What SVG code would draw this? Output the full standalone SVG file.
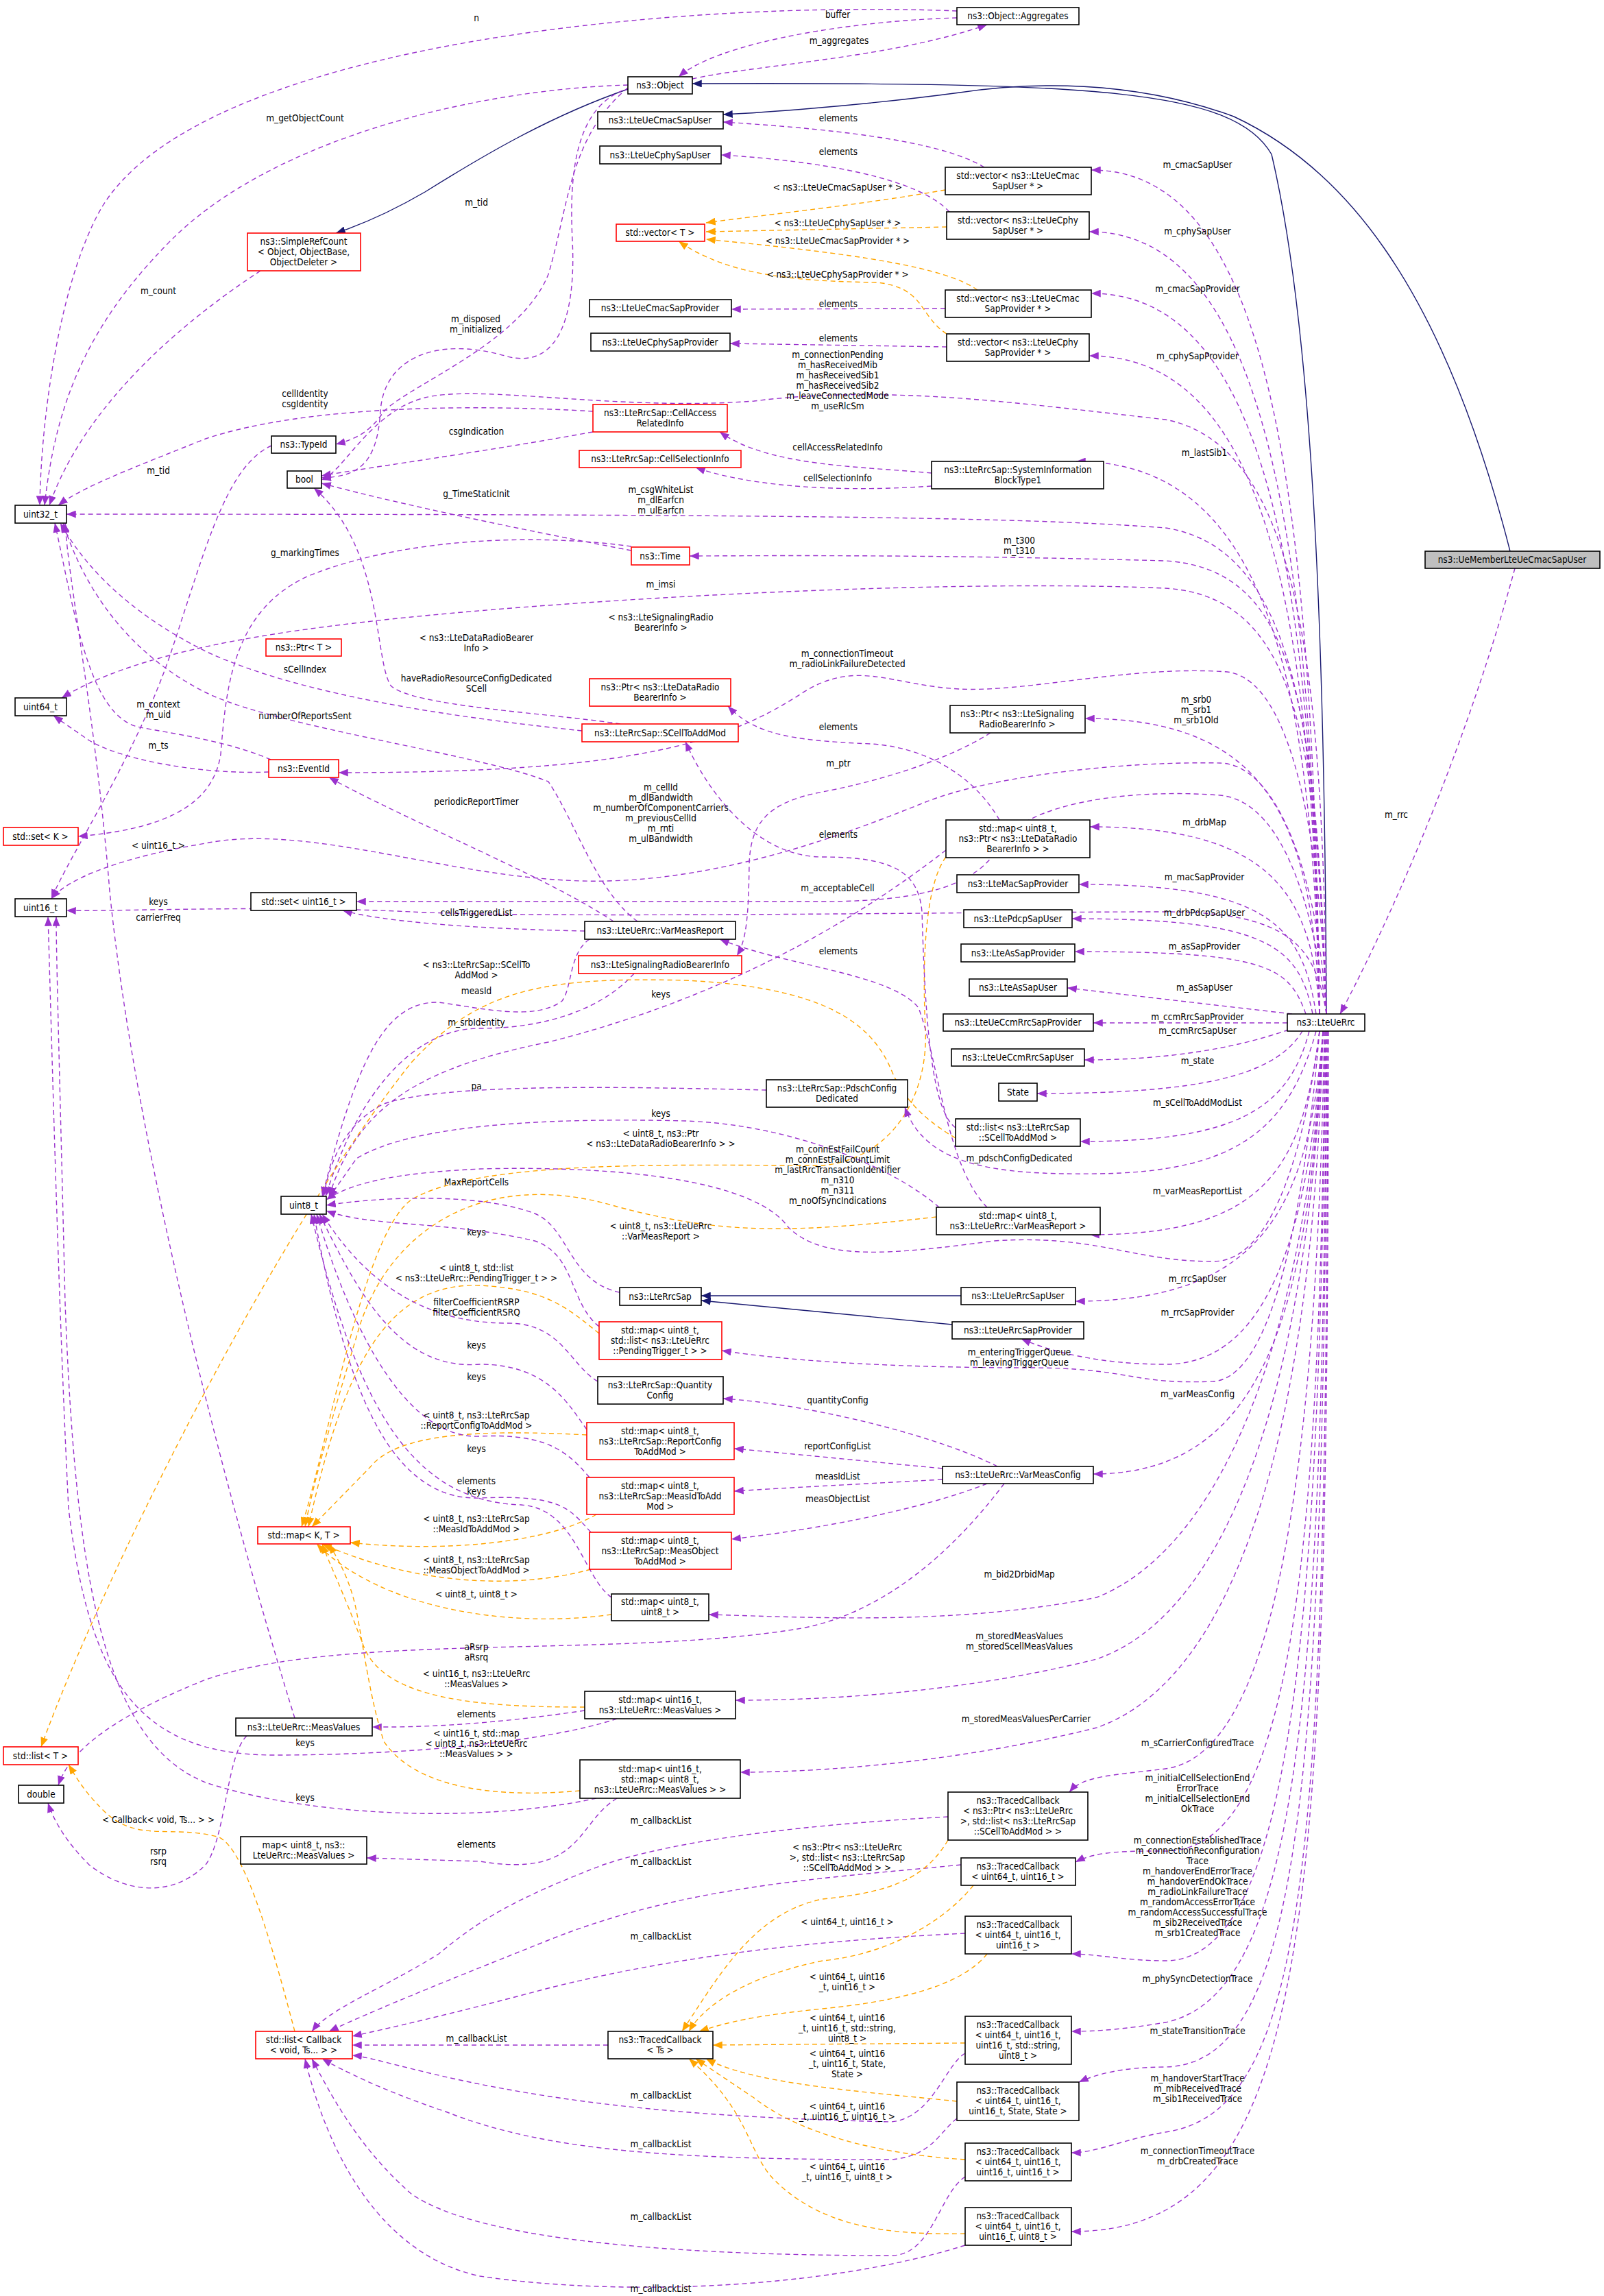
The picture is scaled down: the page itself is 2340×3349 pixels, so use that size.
<svg xmlns="http://www.w3.org/2000/svg" width="2340" height="3349" viewBox="0 0 2340 3349">
<style>
text{font-family:"DejaVu Sans Condensed","DejaVu Sans",sans-serif;font-size:13.5px;fill:#000;text-anchor:middle}
.n rect{fill:#fff;stroke:#000;stroke-width:1.6}
.r rect{fill:#fff;stroke:#ff0000;stroke-width:1.6}
.g rect{fill:#bfbfbf;stroke:#000;stroke-width:1.6}
.p{fill:none;stroke:#9a32cd;stroke-width:1.4;stroke-dasharray:7,5;marker-end:url(#mp)}
.o{fill:none;stroke:#ffa500;stroke-width:1.4;stroke-dasharray:7,5;marker-end:url(#mo)}
.b{fill:none;stroke:#191970;stroke-width:1.4;marker-end:url(#mb)}
</style>
<defs>
<marker id="mp" viewBox="0 0 10 8" markerWidth="14" markerHeight="11" refX="10" refY="4" orient="auto" markerUnits="userSpaceOnUse"><path d="M0,0L10,4L0,8z" fill="#9a32cd"/></marker>
<marker id="mo" viewBox="0 0 10 8" markerWidth="14" markerHeight="11" refX="10" refY="4" orient="auto" markerUnits="userSpaceOnUse"><path d="M0,0L10,4L0,8z" fill="#ffa500"/></marker>
<marker id="mb" viewBox="0 0 10 8" markerWidth="14" markerHeight="11" refX="10" refY="4" orient="auto" markerUnits="userSpaceOnUse"><path d="M0,0L10,4L0,8z" fill="#191970"/></marker>
</defs>
<rect width="2340" height="3349" fill="#fff"/>
<g id="connectors">
<path class="b" d="M916,130 C800,170 700,230 620,280 C560,315 520,330 490,340"/>
<path class="b" d="M1935,1479 C1933,1000 1920,500 1855,225 C1800,130 1600,120 1010,122"/>
<path class="b" d="M2203,804 C2100,400 1950,240 1800,170 C1650,115 1500,120 1400,135 C1250,155 1100,165 1055,167"/>
<path class="b" d="M1402,1890 L1023,1890"/>
<path class="b" d="M1389,1932 L1023,1897"/>
<path class="p" d="M1396,16 C1000,0 300,60 150,300 C90,400 60,600 58,737"/>
<path class="p" d="M1396,26 C1250,30 1050,60 990,112"/>
<path class="p" d="M1010,115 C1100,95 1300,85 1440,36"/>
<path class="p" d="M916,124 C700,130 400,200 250,350 C120,480 80,600 65,737"/>
<path class="p" d="M916,128 C830,200 830,300 800,400 C760,500 600,560 560,600 C540,630 520,640 490,648"/>
<path class="p" d="M920,128 C840,150 830,250 835,350 C840,450 820,540 740,520 C640,490 560,520 555,600 C550,680 520,695 469,697"/>
<path class="p" d="M380,395 C250,480 120,600 72,737"/>
<path class="p" d="M1436,244 C1380,210 1250,190 1055,178"/>
<path class="p" d="M1385,309 C1340,260 1200,235 1052,226"/>
<path class="p" d="M1379,450 L1067,451"/>
<path class="p" d="M1381,506 L1065,501"/>
<path class="o" d="M1379,277 C1250,300 1100,315 1030,325"/>
<path class="o" d="M1381,331 L1030,338"/>
<path class="o" d="M1426,423 C1380,390 1250,370 1030,349"/>
<path class="o" d="M1381,487 C1340,460 1350,420 1280,412 C1150,410 1060,400 990,352"/>
<path class="p" d="M865,600 C700,590 450,590 300,640 C200,680 120,710 85,737"/>
<path class="p" d="M865,630 C700,660 550,680 469,694"/>
<path class="p" d="M396,650 C330,680 300,800 250,950 C200,1100 100,1250 75,1311"/>
<path class="p" d="M1359,690 C1250,680 1120,680 1050,630"/>
<path class="p" d="M1359,709 C1200,720 1080,705 1015,682"/>
<path class="p" d="M921,803 C800,780 600,740 469,705"/>
<path class="p" d="M921,797 C800,780 600,780 450,840 C340,890 330,1000 322,1100 C310,1180 230,1210 114,1220"/>
<path class="p" d="M392,1126 C300,1130 180,1110 130,1080 L78,1044"/>
<path class="p" d="M395,1108 C330,1080 250,1070 200,1060 C130,1040 110,900 80,763"/>
<path class="p" d="M849,1066 C700,1050 450,1020 300,950 C180,890 120,820 88,763"/>
<path class="p" d="M905,1056 C800,1040 600,1030 570,1000 C545,960 560,800 458,712"/>
<path class="p" d="M930,1344 C870,1300 840,1200 800,1140 C700,1100 400,1060 300,1010 C180,950 120,850 92,763"/>
<path class="p" d="M895,1344 C800,1280 600,1200 480,1134"/>
<path class="p" d="M853,1358 C700,1355 560,1345 500,1328"/>
<path class="p" d="M860,1370 C830,1390 835,1440 820,1460 C780,1490 700,1470 640,1462 C560,1460 520,1550 470,1745"/>
<path class="p" d="M925,1420 C880,1470 800,1500 700,1500 C600,1500 520,1600 475,1745"/>
<path class="p" d="M1445,1069 C1380,1110 1280,1140 1200,1155 C1120,1170 1095,1200 1093,1260 C1092,1330 1090,1370 1075,1394"/>
<path class="p" d="M1458,1196 C1420,1130 1350,1090 1270,1085 C1150,1080 1100,1070 1062,1030"/>
<path class="p" d="M1380,1240 C1200,1380 1000,1470 800,1520 C600,1560 520,1620 480,1745"/>
<path class="o" d="M1380,1250 C1350,1290 1345,1400 1350,1500 C1355,1600 1300,1690 1200,1700 C1000,1700 700,1690 600,1750 C530,1800 480,2100 440,2227"/>
<path class="p" d="M1394,1645 C1360,1620 1350,1500 1345,1330 C1340,1270 1300,1250 1200,1250 C1100,1250 1030,1150 1000,1082"/>
<path class="p" d="M1440,1761 C1380,1700 1370,1550 1340,1470 C1300,1420 1150,1410 1050,1370"/>
<path class="o" d="M1394,1660 C1360,1640 1320,1610 1300,1560 C1270,1490 1200,1440 1000,1430 C800,1425 700,1440 600,1550 C400,1800 150,2300 60,2548"/>
<path class="p" d="M1118,1590 C900,1585 650,1580 560,1610 C500,1640 480,1700 472,1745"/>
<path class="o" d="M1366,1775 C1150,1800 1050,1800 900,1760 C700,1700 560,1800 520,1950 C490,2050 460,2150 445,2227"/>
<path class="p" d="M1370,1761 C1300,1700 1150,1640 1000,1635 C800,1630 600,1640 520,1690 L480,1747"/>
<path class="p" d="M904,1885 C830,1870 830,1790 780,1770 C700,1740 560,1745 476,1758"/>
<path class="p" d="M874,1935 C830,1900 840,1830 780,1810 C650,1780 540,1790 476,1766"/>
<path class="o" d="M874,1945 C830,1910 800,1880 700,1875 C560,1870 500,2000 450,2227"/>
<path class="p" d="M872,2015 C830,1990 820,1930 740,1930 C600,1930 520,1850 470,1771"/>
<path class="p" d="M856,2085 C830,2050 800,1990 700,1990 C580,2000 520,1880 466,1771"/>
<path class="o" d="M856,2093 C700,2085 580,2090 540,2140 L455,2227"/>
<path class="p" d="M860,2155 C830,2120 800,2090 700,2095 C580,2100 500,1900 462,1771"/>
<path class="o" d="M870,2209 C800,2250 650,2265 511,2250"/>
<path class="p" d="M862,2235 C830,2200 820,2180 700,2185 C560,2190 500,2000 458,1771"/>
<path class="o" d="M862,2289 C750,2320 600,2310 470,2252"/>
<path class="p" d="M892,2330 C850,2300 840,2200 760,2195 C600,2190 520,2050 454,1771"/>
<path class="o" d="M892,2355 C750,2375 560,2350 462,2252"/>
<path class="p" d="M1455,2139 C1380,2100 1200,2050 1055,2040"/>
<path class="p" d="M1375,2142 C1250,2130 1150,2120 1071,2113"/>
<path class="p" d="M1375,2158 C1250,2165 1150,2170 1071,2175"/>
<path class="p" d="M1440,2164 C1350,2200 1200,2230 1067,2245"/>
<path class="p" d="M1465,2164 C1400,2250 1300,2350 1170,2375 C900,2420 500,2380 300,2450 C150,2510 100,2560 85,2604"/>
<path class="p" d="M360,2532 C330,2560 330,2680 300,2720 C250,2770 180,2760 130,2720 C100,2690 80,2660 70,2630"/>
<path class="p" d="M430,2506 C350,2250 200,1700 160,1300 C140,1050 100,850 95,763"/>
<path class="p" d="M853,2495 C750,2510 650,2520 543,2519"/>
<path class="p" d="M900,2507 C800,2540 600,2560 400,2560 C200,2560 130,2450 100,2200 C85,1900 75,1500 70,1337"/>
<path class="o" d="M853,2490 C700,2490 560,2480 530,2400 C500,2320 480,2280 470,2252"/>
<path class="p" d="M870,2623 C700,2660 450,2650 300,2600 C150,2540 110,2300 95,1900 C88,1600 82,1400 82,1337"/>
<path class="p" d="M900,2623 C840,2660 850,2740 700,2715 L535,2710"/>
<path class="o" d="M846,2612 C700,2625 600,2600 560,2540 C540,2480 530,2400 520,2350 C510,2300 490,2270 480,2252"/>
<path class="o" d="M430,2963 C400,2850 360,2700 320,2680 C250,2660 200,2690 150,2640 C120,2610 110,2590 100,2574"/>
<path class="p" d="M887,2983 L514,2983"/>
<path class="p" d="M1383,2650 C1200,2660 1000,2680 880,2720 C750,2770 700,2800 640,2850 C560,2900 480,2930 455,2963"/>
<path class="p" d="M1402,2720 C1200,2740 1000,2750 800,2830 C650,2890 550,2930 480,2963"/>
<path class="p" d="M1408,2820 C1200,2830 1000,2850 800,2900 C650,2940 560,2960 514,2970"/>
<path class="p" d="M1408,2995 C1380,3010 1360,3090 1300,3095 C1100,3090 900,3080 700,3040 C600,3020 540,3000 514,2998"/>
<path class="p" d="M1396,3090 C1370,3110 1360,3145 1300,3150 C1000,3150 800,3140 650,3080 C560,3050 500,3020 470,3003"/>
<path class="p" d="M1408,3175 C1370,3200 1360,3290 1300,3290 C1000,3290 700,3270 600,3200 C520,3130 480,3050 455,3003"/>
<path class="p" d="M1408,3275 C1200,3340 900,3350 700,3320 C560,3290 480,3150 445,3003"/>
<path class="o" d="M1383,2684 C1350,2740 1300,2760 1200,2770 C1100,2790 1050,2880 995,2963"/>
<path class="o" d="M1420,2750 C1380,2800 1300,2850 1200,2860 C1100,2880 1030,2920 1005,2963"/>
<path class="o" d="M1440,2850 C1400,2900 1300,2920 1200,2930 C1100,2940 1060,2950 1020,2963"/>
<path class="o" d="M1408,2980 L1040,2983"/>
<path class="o" d="M1396,3065 C1250,3050 1100,3040 1030,3003"/>
<path class="o" d="M1408,3150 C1250,3140 1150,3100 1100,3060 L1015,3003"/>
<path class="o" d="M1408,3258 C1300,3260 1200,3250 1130,3180 C1090,3140 1095,3080 1005,3003"/>
<path class="p" d="M1925,1479 C1915,700 1850,248 1592,248"/>
<path class="p" d="M1925,1479 C1915,800 1850,338 1589,338"/>
<path class="p" d="M1925,1479 C1915,850 1850,428 1592,428"/>
<path class="p" d="M1925,1479 C1915,900 1850,519 1589,519"/>
<path class="p" d="M1925,1479 C1915,1000 1850,673 1570,673"/>
<path class="p" d="M1925,1479 C1915,1200 1850,1048 1583,1048"/>
<path class="p" d="M1925,1479 C1915,1300 1850,1206 1590,1206"/>
<path class="p" d="M1920,1479 C1900,1350 1850,1290 1574,1290"/>
<path class="p" d="M1915,1479 C1895,1380 1850,1340 1564,1340"/>
<path class="p" d="M1905,1479 C1880,1410 1850,1388 1568,1388"/>
<path class="p" d="M1885,1479 L1557,1441"/>
<path class="p" d="M1878,1492 L1595,1492"/>
<path class="p" d="M1880,1502 C1800,1530 1700,1546 1582,1546"/>
<path class="p" d="M1900,1504 C1860,1570 1750,1595 1513,1595"/>
<path class="p" d="M1910,1504 C1880,1620 1800,1665 1576,1665"/>
<path class="p" d="M1920,1504 C1880,1650 1800,1710 1600,1712 C1450,1714 1350,1700 1320,1615"/>
<path class="p" d="M1925,1504 C1900,1700 1850,1801 1590,1801"/>
<path class="p" d="M1930,1504 C1910,1750 1850,1898 1569,1898"/>
<path class="p" d="M1930,1504 C1910,1800 1850,1990 1700,1990 C1600,1990 1530,1970 1490,1953"/>
<path class="p" d="M1925,1504 C1900,1800 1850,2010 1770,2015 C1650,2020 1650,1995 1500,1995 C1300,1995 1150,1985 1053,1970"/>
<path class="p" d="M1930,1504 C1910,1900 1850,2150 1595,2150"/>
<path class="p" d="M1930,1504 C1910,1900 1800,2250 1600,2330 C1400,2370 1200,2360 1034,2355"/>
<path class="p" d="M1930,1504 C1910,2000 1800,2350 1600,2420 C1400,2470 1200,2480 1073,2480"/>
<path class="p" d="M1930,1504 C1915,2100 1800,2450 1600,2520 C1400,2570 1200,2585 1080,2585"/>
<path class="p" d="M1932,1504 C1920,2200 1850,2560 1700,2580 C1620,2590 1580,2590 1560,2614"/>
<path class="p" d="M1933,1504 C1925,2300 1880,2700 1700,2700 C1640,2700 1600,2700 1569,2716"/>
<path class="p" d="M1934,1504 C1925,2400 1880,2860 1700,2860 C1640,2860 1600,2850 1563,2850"/>
<path class="p" d="M1935,1504 C1930,2500 1890,2910 1700,2950 C1640,2960 1600,2963 1563,2963"/>
<path class="p" d="M1936,1504 C1930,2600 1900,3010 1700,3015 C1640,3015 1600,3025 1574,3037"/>
<path class="p" d="M1937,1504 C1935,2700 1910,3080 1700,3110 C1640,3120 1600,3140 1563,3140"/>
<path class="p" d="M1938,1504 C1936,2800 1920,3255 1563,3255"/>
<path class="p" d="M1935,1479 C1920,1100 1900,800 1700,770 C1500,755 1200,750 97,750"/>
<path class="p" d="M1935,1479 C1930,1000 1900,650 1700,612 C1500,590 1300,560 1100,585 C900,600 700,560 620,580 C540,600 500,690 469,700"/>
<path class="p" d="M1935,1479 C1920,1000 1880,830 1700,818 C1400,810 1200,810 1006,811"/>
<path class="p" d="M1935,1479 C1920,1100 1900,870 1700,858 C1400,845 900,870 600,900 C400,920 200,950 90,1018"/>
<path class="p" d="M1935,1479 C1925,1200 1880,990 1790,980 C1650,970 1500,1010 1400,1005 C1300,1000 1250,960 1170,1011 C1050,1090 900,1127 494,1127"/>
<path class="p" d="M1935,1479 C1925,1300 1870,1115 1780,1113 C1650,1110 1450,1130 1350,1170 C1250,1210 1050,1290 850,1285 C650,1280 450,1200 300,1230 C180,1250 100,1280 75,1311"/>
<path class="p" d="M1935,1479 C1920,1350 1880,1170 1780,1160 C1650,1150 1500,1170 1460,1230 C1430,1290 1350,1315 1200,1315 L520,1315"/>
<path class="p" d="M1935,1479 C1920,1380 1880,1330 1700,1330 C1400,1330 800,1340 600,1330 C400,1320 150,1330 97,1328"/>
<path class="p" d="M1925,1504 C1900,1700 1850,1840 1770,1840 C1650,1840 1600,1800 1450,1810 C1300,1830 1200,1840 1150,1790 C1100,1720 900,1700 700,1705 C600,1710 520,1720 476,1750"/>
<path class="p" d="M2210,829 C2150,1050 2050,1300 1955,1479"/>
</g>
<g id="labels">
<text x="695" y="31">n</text>
<text x="1222" y="26">buffer</text>
<text x="1224" y="64">m_aggregates</text>
<text x="445" y="177">m_getObjectCount</text>
<text x="695" y="300">m_tid</text>
<text x="231" y="429">m_count</text>
<text x="694" y="470">m_disposed<tspan x="694" dy="15">m_initialized</tspan></text>
<text x="445" y="579">cellIdentity<tspan x="445" dy="15">csgIdentity</tspan></text>
<text x="695" y="634">csgIndication</text>
<text x="231" y="691">m_tid</text>
<text x="695" y="725">g_TimeStaticInit</text>
<text x="964" y="719">m_csgWhiteList<tspan x="964" dy="15">m_dlEarfcn</tspan><tspan x="964" dy="15">m_ulEarfcn</tspan></text>
<text x="445" y="811">g_markingTimes</text>
<text x="1222" y="522">m_connectionPending<tspan x="1222" dy="15">m_hasReceivedMib</tspan><tspan x="1222" dy="15">m_hasReceivedSib1</tspan><tspan x="1222" dy="15">m_hasReceivedSib2</tspan><tspan x="1222" dy="15">m_leaveConnectedMode</tspan><tspan x="1222" dy="15">m_useRlcSm</tspan></text>
<text x="1223" y="177">elements</text>
<text x="1223" y="226">elements</text>
<text x="1223" y="448">elements</text>
<text x="1223" y="498">elements</text>
<text x="1222" y="278">&lt; ns3::LteUeCmacSapUser * &gt;</text>
<text x="1222" y="330">&lt; ns3::LteUeCphySapUser * &gt;</text>
<text x="1222" y="356">&lt; ns3::LteUeCmacSapProvider * &gt;</text>
<text x="1222" y="405">&lt; ns3::LteUeCphySapProvider * &gt;</text>
<text x="1747" y="245">m_cmacSapUser</text>
<text x="1747" y="342">m_cphySapUser</text>
<text x="1747" y="426">m_cmacSapProvider</text>
<text x="1747" y="524">m_cphySapProvider</text>
<text x="1757" y="665">m_lastSib1</text>
<text x="1222" y="657">cellAccessRelatedInfo</text>
<text x="1222" y="702">cellSelectionInfo</text>
<text x="1487" y="793">m_t300<tspan x="1487" dy="15">m_t310</tspan></text>
<text x="964" y="857">m_imsi</text>
<text x="964" y="905">&lt; ns3::LteSignalingRadio<tspan x="964" dy="15">BearerInfo &gt;</tspan></text>
<text x="695" y="935">&lt; ns3::LteDataRadioBearer<tspan x="695" dy="15">Info &gt;</tspan></text>
<text x="445" y="981">sCellIndex</text>
<text x="695" y="994">haveRadioResourceConfigDedicated<tspan x="695" dy="15">SCell</tspan></text>
<text x="231" y="1032">m_context<tspan x="231" dy="15">m_uid</tspan></text>
<text x="445" y="1049">numberOfReportsSent</text>
<text x="231" y="1092">m_ts</text>
<text x="1236" y="958">m_connectionTimeout<tspan x="1236" dy="15">m_radioLinkFailureDetected</tspan></text>
<text x="1745" y="1025">m_srb0<tspan x="1745" dy="15">m_srb1</tspan><tspan x="1745" dy="15">m_srb1Old</tspan></text>
<text x="1223" y="1065">elements</text>
<text x="1223" y="1118">m_ptr</text>
<text x="964" y="1153">m_cellId<tspan x="964" dy="15">m_dlBandwidth</tspan><tspan x="964" dy="15">m_numberOfComponentCarriers</tspan><tspan x="964" dy="15">m_previousCellId</tspan><tspan x="964" dy="15">m_rnti</tspan><tspan x="964" dy="15">m_ulBandwidth</tspan></text>
<text x="695" y="1174">periodicReportTimer</text>
<text x="1223" y="1222">elements</text>
<text x="1757" y="1204">m_drbMap</text>
<text x="231" y="1238">&lt; uint16_t &gt;</text>
<text x="1222" y="1300">m_acceptableCell</text>
<text x="1757" y="1284">m_macSapProvider</text>
<text x="231" y="1320">keys</text>
<text x="695" y="1336">cellsTriggeredList</text>
<text x="231" y="1343">carrierFreq</text>
<text x="1757" y="1336">m_drbPdcpSapUser</text>
<text x="1223" y="1392">elements</text>
<text x="1757" y="1385">m_asSapProvider</text>
<text x="695" y="1412">&lt; ns3::LteRrcSap::SCellTo<tspan x="695" dy="15">AddMod &gt;</tspan></text>
<text x="695" y="1450">measId</text>
<text x="964" y="1455">keys</text>
<text x="1757" y="1445">m_asSapUser</text>
<text x="695" y="1496">m_srbIdentity</text>
<text x="1747" y="1488">m_ccmRrcSapProvider</text>
<text x="1747" y="1508">m_ccmRrcSapUser</text>
<text x="1747" y="1552">m_state</text>
<text x="695" y="1589">pa</text>
<text x="964" y="1629">keys</text>
<text x="964" y="1658">&lt; uint8_t, ns3::Ptr<tspan x="964" dy="15">&lt; ns3::LteDataRadioBearerInfo &gt; &gt;</tspan></text>
<text x="1747" y="1613">m_sCellToAddModList</text>
<text x="1222" y="1681">m_connEstFailCount<tspan x="1222" dy="15">m_connEstFailCountLimit</tspan><tspan x="1222" dy="15">m_lastRrcTransactionIdentifier</tspan><tspan x="1222" dy="15">m_n310</tspan><tspan x="1222" dy="15">m_n311</tspan><tspan x="1222" dy="15">m_noOfSyncIndications</tspan></text>
<text x="695" y="1729">MaxReportCells</text>
<text x="1487" y="1694">m_pdschConfigDedicated</text>
<text x="964" y="1793">&lt; uint8_t, ns3::LteUeRrc<tspan x="964" dy="15">::VarMeasReport &gt;</tspan></text>
<text x="695" y="1802">keys</text>
<text x="1747" y="1742">m_varMeasReportList</text>
<text x="695" y="1854">&lt; uint8_t, std::list<tspan x="695" dy="15">&lt; ns3::LteUeRrc::PendingTrigger_t &gt; &gt;</tspan></text>
<text x="695" y="1904">filterCoefficientRSRP<tspan x="695" dy="15">filterCoefficientRSRQ</tspan></text>
<text x="695" y="1967">keys</text>
<text x="695" y="2013">keys</text>
<text x="695" y="2069">&lt; uint8_t, ns3::LteRrcSap<tspan x="695" dy="15">::ReportConfigToAddMod &gt;</tspan></text>
<text x="695" y="2118">keys</text>
<text x="695" y="2165">elements<tspan x="695" dy="15">keys</tspan></text>
<text x="695" y="2220">&lt; uint8_t, ns3::LteRrcSap<tspan x="695" dy="15">::MeasIdToAddMod &gt;</tspan></text>
<text x="695" y="2280">&lt; uint8_t, ns3::LteRrcSap<tspan x="695" dy="15">::MeasObjectToAddMod &gt;</tspan></text>
<text x="695" y="2330">&lt; uint8_t, uint8_t &gt;</text>
<text x="1747" y="1870">m_rrcSapUser</text>
<text x="1747" y="1919">m_rrcSapProvider</text>
<text x="1487" y="1977">m_enteringTriggerQueue<tspan x="1487" dy="15">m_leavingTriggerQueue</tspan></text>
<text x="1222" y="2047">quantityConfig</text>
<text x="1747" y="2038">m_varMeasConfig</text>
<text x="1222" y="2114">reportConfigList</text>
<text x="1222" y="2158">measIdList</text>
<text x="1222" y="2191">measObjectList</text>
<text x="1487" y="2301">m_bid2DrbidMap</text>
<text x="695" y="2407">aRsrp<tspan x="695" dy="15">aRsrq</tspan></text>
<text x="695" y="2446">&lt; uint16_t, ns3::LteUeRrc<tspan x="695" dy="15">::MeasValues &gt;</tspan></text>
<text x="1487" y="2391">m_storedMeasValues<tspan x="1487" dy="15">m_storedScellMeasValues</tspan></text>
<text x="695" y="2505">elements</text>
<text x="445" y="2547">keys</text>
<text x="695" y="2533">&lt; uint16_t, std::map<tspan x="695" dy="15">&lt; uint8_t, ns3::LteUeRrc</tspan><tspan x="695" dy="15">::MeasValues &gt; &gt;</tspan></text>
<text x="1497" y="2512">m_storedMeasValuesPerCarrier</text>
<text x="445" y="2627">keys</text>
<text x="1747" y="2547">m_sCarrierConfiguredTrace</text>
<text x="231" y="2659">&lt; Callback&lt; void, Ts... &gt; &gt;</text>
<text x="231" y="2705">rsrp<tspan x="231" dy="15">rsrq</tspan></text>
<text x="695" y="2695">elements</text>
<text x="964" y="2660">m_callbackList</text>
<text x="964" y="2720">m_callbackList</text>
<text x="964" y="2829">m_callbackList</text>
<text x="695" y="2978">m_callbackList</text>
<text x="964" y="3061">m_callbackList</text>
<text x="964" y="3132">m_callbackList</text>
<text x="964" y="3238">m_callbackList</text>
<text x="964" y="3343">m_callbackList</text>
<text x="1747" y="2598">m_initialCellSelectionEnd<tspan x="1747" dy="15">ErrorTrace</tspan><tspan x="1747" dy="15">m_initialCellSelectionEnd</tspan><tspan x="1747" dy="15">OkTrace</tspan></text>
<text x="1236" y="2699">&lt; ns3::Ptr&lt; ns3::LteUeRrc<tspan x="1236" dy="15">&gt;, std::list&lt; ns3::LteRrcSap</tspan><tspan x="1236" dy="15">::SCellToAddMod &gt; &gt;</tspan></text>
<text x="1747" y="2689">m_connectionEstablishedTrace<tspan x="1747" dy="15">m_connectionReconfiguration</tspan><tspan x="1747" dy="15">Trace</tspan><tspan x="1747" dy="15">m_handoverEndErrorTrace</tspan><tspan x="1747" dy="15">m_handoverEndOkTrace</tspan><tspan x="1747" dy="15">m_radioLinkFailureTrace</tspan><tspan x="1747" dy="15">m_randomAccessErrorTrace</tspan><tspan x="1747" dy="15">m_randomAccessSuccessfulTrace</tspan><tspan x="1747" dy="15">m_sib2ReceivedTrace</tspan><tspan x="1747" dy="15">m_srb1CreatedTrace</tspan></text>
<text x="1236" y="2808">&lt; uint64_t, uint16_t &gt;</text>
<text x="1236" y="2888">&lt; uint64_t, uint16<tspan x="1236" dy="15">_t, uint16_t &gt;</tspan></text>
<text x="1236" y="2948">&lt; uint64_t, uint16<tspan x="1236" dy="15">_t, uint16_t, std::string,</tspan><tspan x="1236" dy="15">uint8_t &gt;</tspan></text>
<text x="1236" y="3000">&lt; uint64_t, uint16<tspan x="1236" dy="15">_t, uint16_t, State,</tspan><tspan x="1236" dy="15">State &gt;</tspan></text>
<text x="1236" y="3077">&lt; uint64_t, uint16<tspan x="1236" dy="15">_t, uint16_t, uint16_t &gt;</tspan></text>
<text x="1236" y="3165">&lt; uint64_t, uint16<tspan x="1236" dy="15">_t, uint16_t, uint8_t &gt;</tspan></text>
<text x="1747" y="2891">m_phySyncDetectionTrace</text>
<text x="1747" y="2967">m_stateTransitionTrace</text>
<text x="1747" y="3036">m_handoverStartTrace<tspan x="1747" dy="15">m_mibReceivedTrace</tspan><tspan x="1747" dy="15">m_sib1ReceivedTrace</tspan></text>
<text x="1747" y="3142">m_connectionTimeoutTrace<tspan x="1747" dy="15">m_drbCreatedTrace</tspan></text>
<text x="2037" y="1193">m_rrc</text>
</g>
<g id="Aggregates" class="n"><rect x="1396" y="11" width="178" height="25"/><text x="1485" y="28">ns3::Object::Aggregates</text></g>
<g id="Object" class="n"><rect x="916" y="112" width="94" height="25"/><text x="963" y="129">ns3::Object</text></g>
<g id="LteUeCmacSapUser" class="n"><rect x="872" y="163" width="183" height="25"/><text x="963" y="180">ns3::LteUeCmacSapUser</text></g>
<g id="LteUeCphySapUser" class="n"><rect x="875" y="213" width="177" height="26"/><text x="963" y="231">ns3::LteUeCphySapUser</text></g>
<g id="vectorT" class="r"><rect x="899" y="327" width="129" height="25"/><text x="963" y="344">std::vector&lt; T &gt;</text></g>
<g id="SimpleRefCount" class="r"><rect x="361" y="340" width="165" height="55"/><text x="443" y="357">ns3::SimpleRefCount<tspan x="443" dy="15">&lt; Object, ObjectBase,</tspan><tspan x="443" dy="15">ObjectDeleter &gt;</tspan></text></g>
<g id="LteUeCmacSapProvider" class="n"><rect x="860" y="437" width="207" height="25"/><text x="963" y="454">ns3::LteUeCmacSapProvider</text></g>
<g id="LteUeCphySapProvider" class="n"><rect x="862" y="486" width="203" height="26"/><text x="963" y="504">ns3::LteUeCphySapProvider</text></g>
<g id="CellAccessRelatedInfo" class="r"><rect x="865" y="590" width="196" height="40"/><text x="963" y="607">ns3::LteRrcSap::CellAccess<tspan x="963" dy="15">RelatedInfo</tspan></text></g>
<g id="TypeId" class="n"><rect x="396" y="636" width="94" height="25"/><text x="443" y="653">ns3::TypeId</text></g>
<g id="CellSelectionInfo" class="r"><rect x="845" y="657" width="236" height="25"/><text x="963" y="674">ns3::LteRrcSap::CellSelectionInfo</text></g>
<g id="bool" class="n"><rect x="419" y="687" width="50" height="25"/><text x="444" y="704">bool</text></g>
<g id="uint32_t" class="n"><rect x="22" y="737" width="75" height="26"/><text x="59" y="755">uint32_t</text></g>
<g id="Time" class="r"><rect x="921" y="798" width="85" height="26"/><text x="963" y="816">ns3::Time</text></g>
<g id="vecCmacSapUser" class="n"><rect x="1379" y="244" width="213" height="40"/><text x="1485" y="261">std::vector&lt; ns3::LteUeCmac<tspan x="1485" dy="15">SapUser * &gt;</tspan></text></g>
<g id="vecCphySapUser" class="n"><rect x="1381" y="309" width="208" height="40"/><text x="1485" y="326">std::vector&lt; ns3::LteUeCphy<tspan x="1485" dy="15">SapUser * &gt;</tspan></text></g>
<g id="vecCmacSapProvider" class="n"><rect x="1379" y="423" width="213" height="40"/><text x="1485" y="440">std::vector&lt; ns3::LteUeCmac<tspan x="1485" dy="15">SapProvider * &gt;</tspan></text></g>
<g id="vecCphySapProvider" class="n"><rect x="1381" y="487" width="208" height="40"/><text x="1485" y="504">std::vector&lt; ns3::LteUeCphy<tspan x="1485" dy="15">SapProvider * &gt;</tspan></text></g>
<g id="SysInfoBlockType1" class="n"><rect x="1359" y="673" width="251" height="40"/><text x="1485" y="690">ns3::LteRrcSap::SystemInformation<tspan x="1485" dy="15">BlockType1</tspan></text></g>
<g id="UeMember" class="g"><rect x="2079" y="804" width="255" height="25"/><text x="2206" y="821">ns3::UeMemberLteUeCmacSapUser</text></g>
<g id="PtrT" class="r"><rect x="388" y="932" width="110" height="25"/><text x="443" y="949">ns3::Ptr&lt; T &gt;</text></g>
<g id="uint64_t" class="n"><rect x="22" y="1018" width="75" height="26"/><text x="59" y="1036">uint64_t</text></g>
<g id="PtrDRB" class="r"><rect x="860" y="990" width="206" height="40"/><text x="963" y="1007">ns3::Ptr&lt; ns3::LteDataRadio<tspan x="963" dy="15">BearerInfo &gt;</tspan></text></g>
<g id="SCellToAddMod" class="r"><rect x="849" y="1056" width="228" height="26"/><text x="963" y="1074">ns3::LteRrcSap::SCellToAddMod</text></g>
<g id="EventId" class="r"><rect x="392" y="1108" width="102" height="26"/><text x="443" y="1126">ns3::EventId</text></g>
<g id="setK" class="r"><rect x="5" y="1207" width="109" height="26"/><text x="59" y="1225">std::set&lt; K &gt;</text></g>
<g id="uint16_t" class="n"><rect x="22" y="1311" width="75" height="26"/><text x="59" y="1329">uint16_t</text></g>
<g id="setU16" class="n"><rect x="366" y="1302" width="154" height="26"/><text x="443" y="1320">std::set&lt; uint16_t &gt;</text></g>
<g id="VarMeasReport" class="n"><rect x="853" y="1344" width="220" height="26"/><text x="963" y="1362">ns3::LteUeRrc::VarMeasReport</text></g>
<g id="LteSignalingRadioBearerInfo" class="r"><rect x="844" y="1394" width="238" height="26"/><text x="963" y="1412">ns3::LteSignalingRadioBearerInfo</text></g>
<g id="PtrSRB" class="n"><rect x="1386" y="1029" width="197" height="40"/><text x="1484" y="1046">ns3::Ptr&lt; ns3::LteSignaling<tspan x="1484" dy="15">RadioBearerInfo &gt;</tspan></text></g>
<g id="mapDRB" class="n"><rect x="1380" y="1196" width="210" height="55"/><text x="1485" y="1213">std::map&lt; uint8_t,<tspan x="1485" dy="15">ns3::Ptr&lt; ns3::LteDataRadio</tspan><tspan x="1485" dy="15">BearerInfo &gt; &gt;</tspan></text></g>
<g id="LteMacSapProvider" class="n"><rect x="1396" y="1276" width="178" height="26"/><text x="1485" y="1294">ns3::LteMacSapProvider</text></g>
<g id="LtePdcpSapUser" class="n"><rect x="1406" y="1327" width="158" height="26"/><text x="1485" y="1345">ns3::LtePdcpSapUser</text></g>
<g id="LteAsSapProvider" class="n"><rect x="1402" y="1377" width="166" height="26"/><text x="1485" y="1395">ns3::LteAsSapProvider</text></g>
<g id="LteAsSapUser" class="n"><rect x="1414" y="1428" width="143" height="25"/><text x="1485" y="1445">ns3::LteAsSapUser</text></g>
<g id="LteUeCcmRrcSapProvider" class="n"><rect x="1376" y="1479" width="219" height="25"/><text x="1485" y="1496">ns3::LteUeCcmRrcSapProvider</text></g>
<g id="LteUeCcmRrcSapUser" class="n"><rect x="1388" y="1530" width="194" height="25"/><text x="1485" y="1547">ns3::LteUeCcmRrcSapUser</text></g>
<g id="State" class="n"><rect x="1457" y="1580" width="56" height="26"/><text x="1485" y="1598">State</text></g>
<g id="listSCell" class="n"><rect x="1394" y="1632" width="182" height="40"/><text x="1485" y="1649">std::list&lt; ns3::LteRrcSap<tspan x="1485" dy="15">::SCellToAddMod &gt;</tspan></text></g>
<g id="PdschConfig" class="n"><rect x="1118" y="1575" width="206" height="40"/><text x="1221" y="1592">ns3::LteRrcSap::PdschConfig<tspan x="1221" dy="15">Dedicated</tspan></text></g>
<g id="mapVMR" class="n"><rect x="1366" y="1761" width="239" height="40"/><text x="1485" y="1778">std::map&lt; uint8_t,<tspan x="1485" dy="15">ns3::LteUeRrc::VarMeasReport &gt;</tspan></text></g>
<g id="LteUeRrc" class="n"><rect x="1878" y="1479" width="113" height="25"/><text x="1934" y="1496">ns3::LteUeRrc</text></g>
<g id="uint8_t" class="n"><rect x="410" y="1745" width="66" height="26"/><text x="443" y="1763">uint8_t</text></g>
<g id="LteRrcSap" class="n"><rect x="904" y="1878" width="119" height="26"/><text x="963" y="1896">ns3::LteRrcSap</text></g>
<g id="LteUeRrcSapUser" class="n"><rect x="1402" y="1878" width="167" height="25"/><text x="1485" y="1895">ns3::LteUeRrcSapUser</text></g>
<g id="LteUeRrcSapProvider" class="n"><rect x="1389" y="1928" width="192" height="25"/><text x="1485" y="1945">ns3::LteUeRrcSapProvider</text></g>
<g id="mapPT" class="r"><rect x="874" y="1928" width="179" height="55"/><text x="963" y="1945">std::map&lt; uint8_t,<tspan x="963" dy="15">std::list&lt; ns3::LteUeRrc</tspan><tspan x="963" dy="15">::PendingTrigger_t &gt; &gt;</tspan></text></g>
<g id="QuantityConfig" class="n"><rect x="872" y="2008" width="183" height="40"/><text x="963" y="2025">ns3::LteRrcSap::Quantity<tspan x="963" dy="15">Config</tspan></text></g>
<g id="mapRC" class="r"><rect x="856" y="2075" width="215" height="54"/><text x="963" y="2092">std::map&lt; uint8_t,<tspan x="963" dy="15">ns3::LteRrcSap::ReportConfig</tspan><tspan x="963" dy="15">ToAddMod &gt;</tspan></text></g>
<g id="mapMI" class="r"><rect x="856" y="2155" width="215" height="54"/><text x="963" y="2172">std::map&lt; uint8_t,<tspan x="963" dy="15">ns3::LteRrcSap::MeasIdToAdd</tspan><tspan x="963" dy="15">Mod &gt;</tspan></text></g>
<g id="mapMO" class="r"><rect x="860" y="2235" width="207" height="54"/><text x="963" y="2252">std::map&lt; uint8_t,<tspan x="963" dy="15">ns3::LteRrcSap::MeasObject</tspan><tspan x="963" dy="15">ToAddMod &gt;</tspan></text></g>
<g id="VarMeasConfig" class="n"><rect x="1375" y="2139" width="220" height="25"/><text x="1485" y="2156">ns3::LteUeRrc::VarMeasConfig</text></g>
<g id="mapKT" class="r"><rect x="376" y="2227" width="135" height="25"/><text x="443" y="2244">std::map&lt; K, T &gt;</text></g>
<g id="mapU8U8" class="n"><rect x="892" y="2325" width="142" height="39"/><text x="963" y="2341">std::map&lt; uint8_t,<tspan x="963" dy="15">uint8_t &gt;</tspan></text></g>
<g id="mapU16MV" class="n"><rect x="853" y="2467" width="220" height="40"/><text x="963" y="2484">std::map&lt; uint16_t,<tspan x="963" dy="15">ns3::LteUeRrc::MeasValues &gt;</tspan></text></g>
<g id="MeasValues" class="n"><rect x="344" y="2506" width="199" height="26"/><text x="443" y="2524">ns3::LteUeRrc::MeasValues</text></g>
<g id="listT" class="r"><rect x="5" y="2548" width="109" height="26"/><text x="59" y="2566">std::list&lt; T &gt;</text></g>
<g id="double" class="n"><rect x="27" y="2604" width="66" height="26"/><text x="60" y="2622">double</text></g>
<g id="mapU16Map" class="n"><rect x="846" y="2567" width="234" height="56"/><text x="963" y="2585">std::map&lt; uint16_t,<tspan x="963" dy="15">std::map&lt; uint8_t,</tspan><tspan x="963" dy="15">ns3::LteUeRrc::MeasValues &gt; &gt;</tspan></text></g>
<g id="mapU8MV" class="n"><rect x="351" y="2679" width="184" height="40"/><text x="443" y="2696">map&lt; uint8_t, ns3::<tspan x="443" dy="15">LteUeRrc::MeasValues &gt;</tspan></text></g>
<g id="listCallback" class="r"><rect x="373" y="2963" width="141" height="40"/><text x="443" y="2980">std::list&lt; Callback<tspan x="443" dy="15">&lt; void, Ts... &gt; &gt;</tspan></text></g>
<g id="TCTs" class="n"><rect x="887" y="2963" width="153" height="40"/><text x="963" y="2980">ns3::TracedCallback<tspan x="963" dy="15">&lt; Ts &gt;</tspan></text></g>
<g id="TCPtr" class="n"><rect x="1383" y="2614" width="204" height="70"/><text x="1485" y="2631">ns3::TracedCallback<tspan x="1485" dy="15">&lt; ns3::Ptr&lt; ns3::LteUeRrc</tspan><tspan x="1485" dy="15">&gt;, std::list&lt; ns3::LteRrcSap</tspan><tspan x="1485" dy="15">::SCellToAddMod &gt; &gt;</tspan></text></g>
<g id="TC2" class="n"><rect x="1402" y="2710" width="167" height="40"/><text x="1485" y="2727">ns3::TracedCallback<tspan x="1485" dy="15">&lt; uint64_t, uint16_t &gt;</tspan></text></g>
<g id="TC3" class="n"><rect x="1408" y="2795" width="155" height="55"/><text x="1485" y="2812">ns3::TracedCallback<tspan x="1485" dy="15">&lt; uint64_t, uint16_t,</tspan><tspan x="1485" dy="15">uint16_t &gt;</tspan></text></g>
<g id="TCstr" class="n"><rect x="1408" y="2941" width="155" height="70"/><text x="1485" y="2958">ns3::TracedCallback<tspan x="1485" dy="15">&lt; uint64_t, uint16_t,</tspan><tspan x="1485" dy="15">uint16_t, std::string,</tspan><tspan x="1485" dy="15">uint8_t &gt;</tspan></text></g>
<g id="TCstate" class="n"><rect x="1396" y="3037" width="178" height="56"/><text x="1485" y="3054">ns3::TracedCallback<tspan x="1485" dy="15">&lt; uint64_t, uint16_t,</tspan><tspan x="1485" dy="15">uint16_t, State, State &gt;</tspan></text></g>
<g id="TC4" class="n"><rect x="1408" y="3126" width="155" height="55"/><text x="1485" y="3143">ns3::TracedCallback<tspan x="1485" dy="15">&lt; uint64_t, uint16_t,</tspan><tspan x="1485" dy="15">uint16_t, uint16_t &gt;</tspan></text></g>
<g id="TC4b" class="n"><rect x="1408" y="3220" width="155" height="55"/><text x="1485" y="3237">ns3::TracedCallback<tspan x="1485" dy="15">&lt; uint64_t, uint16_t,</tspan><tspan x="1485" dy="15">uint16_t, uint8_t &gt;</tspan></text></g>
</svg>
